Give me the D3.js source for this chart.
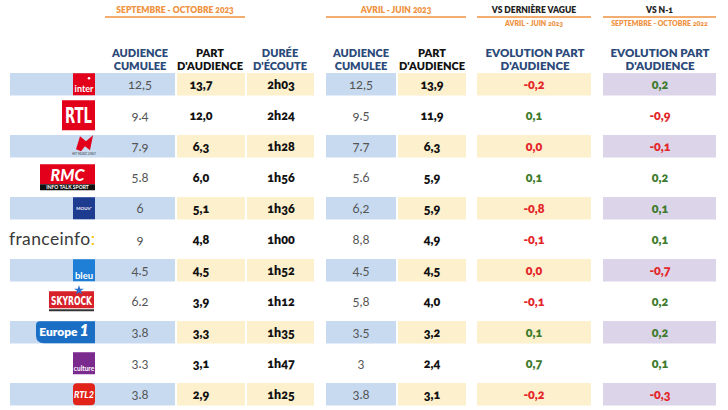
<!DOCTYPE html>
<html><head><meta charset="utf-8">
<script src="https://cdn.jsdelivr.net/npm/d3@7"></script>
<style>
html,body{margin:0;padding:0;background:#fff;}
svg{display:block;font-family:Lato,"Open Sans",sans-serif;}
.num{font-variant-numeric:oldstyle-nums;font-feature-settings:"onum" 1;}
</style></head><body>
<svg id="c" width="728" height="410"></svg>
<script>
// ---- data ----
const stations = ["France Inter","RTL","NRJ","RMC","Mouv'","franceinfo","France Bleu","Skyrock","Europe 1","France Culture","RTL2"];
const acSeptOct = ["12,5","9.4","7.9","5.8","6","9","4.5","6.2","3.8","3.3","3.8"];
const pdaSeptOct = [13.7,12.0,6.3,6.0,5.1,4.8,4.5,3.9,3.3,3.1,2.9];
const dureeSeptOct = ["2h03","2h24","1h28","1h56","1h36","1h00","1h52","1h12","1h35","1h47","1h25"];
const acAvrJuin = ["12,5","9.5","7.7","5.6","6,2","8,8","4.5","5,8","3.5","3","3.8"];
const pdaAvrJuin = [13.9,11.9,6.3,5.9,5.9,4.9,4.5,4.0,3.2,2.4,3.1];
const evoVague = [-0.2,0.1,0.0,0.1,-0.8,-0.1,0.0,-0.1,0.1,0.7,-0.2];
const evoN1 = [0.2,-0.9,-0.1,0.2,0.1,0.1,-0.7,0.2,0.2,0.1,-0.3];

const svg = d3.select("#c");
const ORANGE="#ef9241", NAVY="#2b4a7a", BLUE="#c7daf0", YEL="#fdf0cd", PUR="#dcd4e9";
const RED="#e3262a", GREEN="#3e7b2c";

const y = d3.scaleBand().domain(stations).range([73, 405.5]).paddingInner(0.274).paddingOuter(0);
const fmt1 = v => d3.format(".1f")(v).replace(".", ",").replace("−","-");

const cols = [
  {x0:10, x1:175, cx:140, fill:BLUE, vals:acSeptOct, style:"reg"},
  {x0:177, x1:245, cx:201, fill:YEL, vals:pdaSeptOct.map(fmt1), style:"bold"},
  {x0:247, x1:314, cx:281, fill:YEL, vals:dureeSeptOct, style:"bold"},
  {x0:326, x1:396, cx:361, fill:BLUE, vals:acAvrJuin, style:"reg"},
  {x0:398, x1:466, cx:432, fill:YEL, vals:pdaAvrJuin.map(fmt1), style:"bold"},
  {x0:477, x1:591, cx:534, fill:YEL, vals:evoVague.map(fmt1), raw:evoVague, style:"evo"},
  {x0:603, x1:716, cx:660, fill:PUR, vals:evoN1.map(fmt1), raw:evoN1, style:"evo"}
];

cols.forEach(c=>{
  svg.append("g").selectAll("rect").data(stations.filter((d,i)=>i%2===0)).join("rect")
    .attr("x",c.x0).attr("width",c.x1-c.x0)
    .attr("y",d=>y(d)).attr("height",y.bandwidth()).attr("fill",c.fill);
});

cols.forEach(c=>{
  svg.append("g").selectAll("text").data(stations).join("text")
    .attr("class","num")
    .attr("x",c.cx).attr("y",d=>y(d)+y.bandwidth()/2+4.5)
    .attr("text-anchor","middle")
    .attr("font-size", c.style==="reg" ? 13 : 12.5)
    .attr("font-weight", c.style==="reg" ? 400 : 800)
    .attr("fill",(d,i)=> c.style==="reg" ? "#555" : c.style==="bold" ? "#111" : (c.raw[i]>0 ? GREEN : RED))
    .text((d,i)=>c.vals[i]);
});

const groups = [
  {t:"SEPTEMBRE - OCTOBRE 2023", x0:105, x1:245, col:ORANGE},
  {t:"AVRIL - JUIN 2023", x0:326, x1:466, col:ORANGE},
  {t:"VS DERNIÈRE VAGUE", x0:477, x1:591, col:"#222", sub:"AVRIL - JUIN 2023"},
  {t:"VS N-1", x0:603, x1:716, col:"#222", sub:"SEPTEMBRE - OCTOBRE 2022"}
];
groups.forEach(g=>{
  const cx=(g.x0+g.x1)/2;
  svg.append("text").attr("class","num").attr("x",cx).attr("y",13).attr("text-anchor","middle")
    .attr("font-size",8.5).attr("font-weight",800).attr("fill",g.col).text(g.t);
  svg.append("line").attr("x1",g.x0).attr("x2",g.x1).attr("y1",17).attr("y2",17)
    .attr("stroke",ORANGE).attr("stroke-width",1.6);
  if(g.sub) svg.append("text").attr("class","num").attr("x",cx).attr("y",26).attr("text-anchor","middle")
    .attr("font-size",7).attr("font-weight",800).attr("fill",ORANGE).text(g.sub);
});

const heads = [
  {l:["AUDIENCE","CUMULEE"], cx:140, col:NAVY},
  {l:["PART","D'AUDIENCE"], cx:210, col:"#111"},
  {l:["DURÉE","D'ÉCOUTE"], cx:280, col:NAVY},
  {l:["AUDIENCE","CUMULEE"], cx:361, col:NAVY},
  {l:["PART","D'AUDIENCE"], cx:432, col:"#111"},
  {l:["EVOLUTION PART","D'AUDIENCE"], cx:535, col:NAVY},
  {l:["EVOLUTION PART","D'AUDIENCE"], cx:660, col:NAVY}
];
heads.forEach(h=>{
  h.l.forEach((s,i)=>{
    svg.append("text").attr("x",h.cx).attr("y",57+i*12.5).attr("text-anchor","middle")
      .attr("font-size", h.l[0].length>10 ? 11.5 : 11).attr("font-weight",800).attr("fill",h.col).text(s);
  });
});

// logos (simplified)
const L = svg.append("g");
function cy(i){return y(stations[i])+y.bandwidth()/2;}
{const c=cy(0); L.append("rect").attr("x",73).attr("y",c-11).attr("width",22).attr("height",22).attr("fill","#e2001a");
 L.append("text").attr("x",84).attr("y",c+8).attr("text-anchor","middle").attr("font-size",9).attr("font-weight",700).attr("fill","#fff").text("inter");
 L.append("circle").attr("cx",89).attr("cy",c-6).attr("r",1.3).attr("fill","#fff");}
{const c=cy(1); L.append("rect").attr("x",62).attr("y",c-15).attr("width",33).attr("height",30).attr("fill","#e2001a");
 L.append("text").attr("x",78.5).attr("y",c+8).attr("text-anchor","middle").attr("font-size",21).attr("font-weight",700).attr("font-family","DejaVu Sans Condensed,DejaVu Sans,sans-serif").attr("fill","#fff").attr("textLength",27).attr("lengthAdjust","spacingAndGlyphs").text("RTL");}
{const c=cy(2); L.append("path").attr("d",`M76,${c+3} L80,${c-10} L86,${c-5} L93,${c-11} L90,${c+4} L85,${c} L81,${c+5} Z`).attr("fill","#e2001a");
 L.append("text").attr("x",84).attr("y",c+9).attr("text-anchor","middle").attr("font-size",3).attr("fill","#333").text("HIT MUSIC ONLY");}
{const c=cy(3); L.append("rect").attr("x",40).attr("y",c-13).attr("width",55).attr("height",20).attr("fill","#e2001a");
 L.append("rect").attr("x",40).attr("y",c+7).attr("width",55).attr("height",6).attr("fill","#111");
 L.append("text").attr("x",67.5).attr("y",c+4).attr("text-anchor","middle").attr("font-size",16).attr("font-weight",900).attr("font-style","italic").attr("fill","#fff").text("RMC");
 L.append("text").attr("x",67.5).attr("y",c+12).attr("text-anchor","middle").attr("font-size",5).attr("font-weight",700).attr("fill","#fff").text("INFO TALK SPORT");}
{const c=cy(4); L.append("rect").attr("x",73).attr("y",c-11).attr("width",22).attr("height",22).attr("fill","#1d3c8f");
 L.append("text").attr("x",84).attr("y",c+2).attr("text-anchor","middle").attr("font-size",4.5).attr("font-weight",700).attr("fill","#fff").text("MOUV'");}
{const c=cy(5); const t=L.append("text").attr("x",9).attr("y",c+6).attr("font-size",17.5).attr("fill","#3a3a3a").attr("textLength",86);
 t.append("tspan").text("franceinfo"); t.append("tspan").attr("fill","#f5c400").text(":");}
{const c=cy(6); L.append("rect").attr("x",73).attr("y",c-11).attr("width",22).attr("height",22).attr("fill","#1f7fd6");
 L.append("text").attr("x",84).attr("y",c+9).attr("text-anchor","middle").attr("font-size",9.5).attr("font-weight",700).attr("fill","#fff").text("bleu");}
{const c=cy(7); L.append("rect").attr("x",49).attr("y",c-10).attr("width",45).attr("height",17).attr("fill","#d6202a");
 L.append("text").attr("x",71.5).attr("y",c+4).attr("text-anchor","middle").attr("font-size",13).attr("font-weight",700).attr("fill","#fff").attr("textLength",41).attr("lengthAdjust","spacingAndGlyphs").attr("font-family","DejaVu Sans Condensed,sans-serif").text("SKYROCK");
 L.append("rect").attr("x",49).attr("y",c+8).attr("width",45).attr("height",2).attr("fill","#333");
 L.append("path").attr("d",d3.symbol(d3.symbolStar,30)()).attr("transform",`translate(79,${c-11})`).attr("fill","#2a6fd0");}
{const c=cy(8); L.append("path").attr("d",`M40,${c-11} L95,${c-11} L95,${c+11} L44,${c+11} Q36,${c+11} 36,${c+3} L36,${c-7} Q36,${c-11} 40,${c-11} Z`).attr("fill","#1a6fc4");
 const t=L.append("text").attr("x",64).attr("y",c+4).attr("text-anchor","middle").attr("font-weight",800).attr("fill","#fff");
 t.append("tspan").attr("font-size",12).text("Europe");
 t.append("tspan").attr("font-size",16).attr("font-style","italic").attr("dx",2).text("1");}
{const c=cy(9); L.append("rect").attr("x",73).attr("y",c-11).attr("width",22).attr("height",22).attr("fill","#7b2a8e");
 L.append("text").attr("x",84).attr("y",c+8).attr("text-anchor","middle").attr("font-size",6.5).attr("font-weight",700).attr("fill","#fff").text("culture");}
{const c=cy(10); L.append("rect").attr("x",73).attr("y",c-11).attr("width",22).attr("height",22).attr("rx",4).attr("fill","#e2231a");
 L.append("text").attr("x",84).attr("y",c+4).attr("text-anchor","middle").attr("font-size",9).attr("font-weight",900).attr("font-style","italic").attr("fill","#fff").text("RTL2");}
</script></body></html>
